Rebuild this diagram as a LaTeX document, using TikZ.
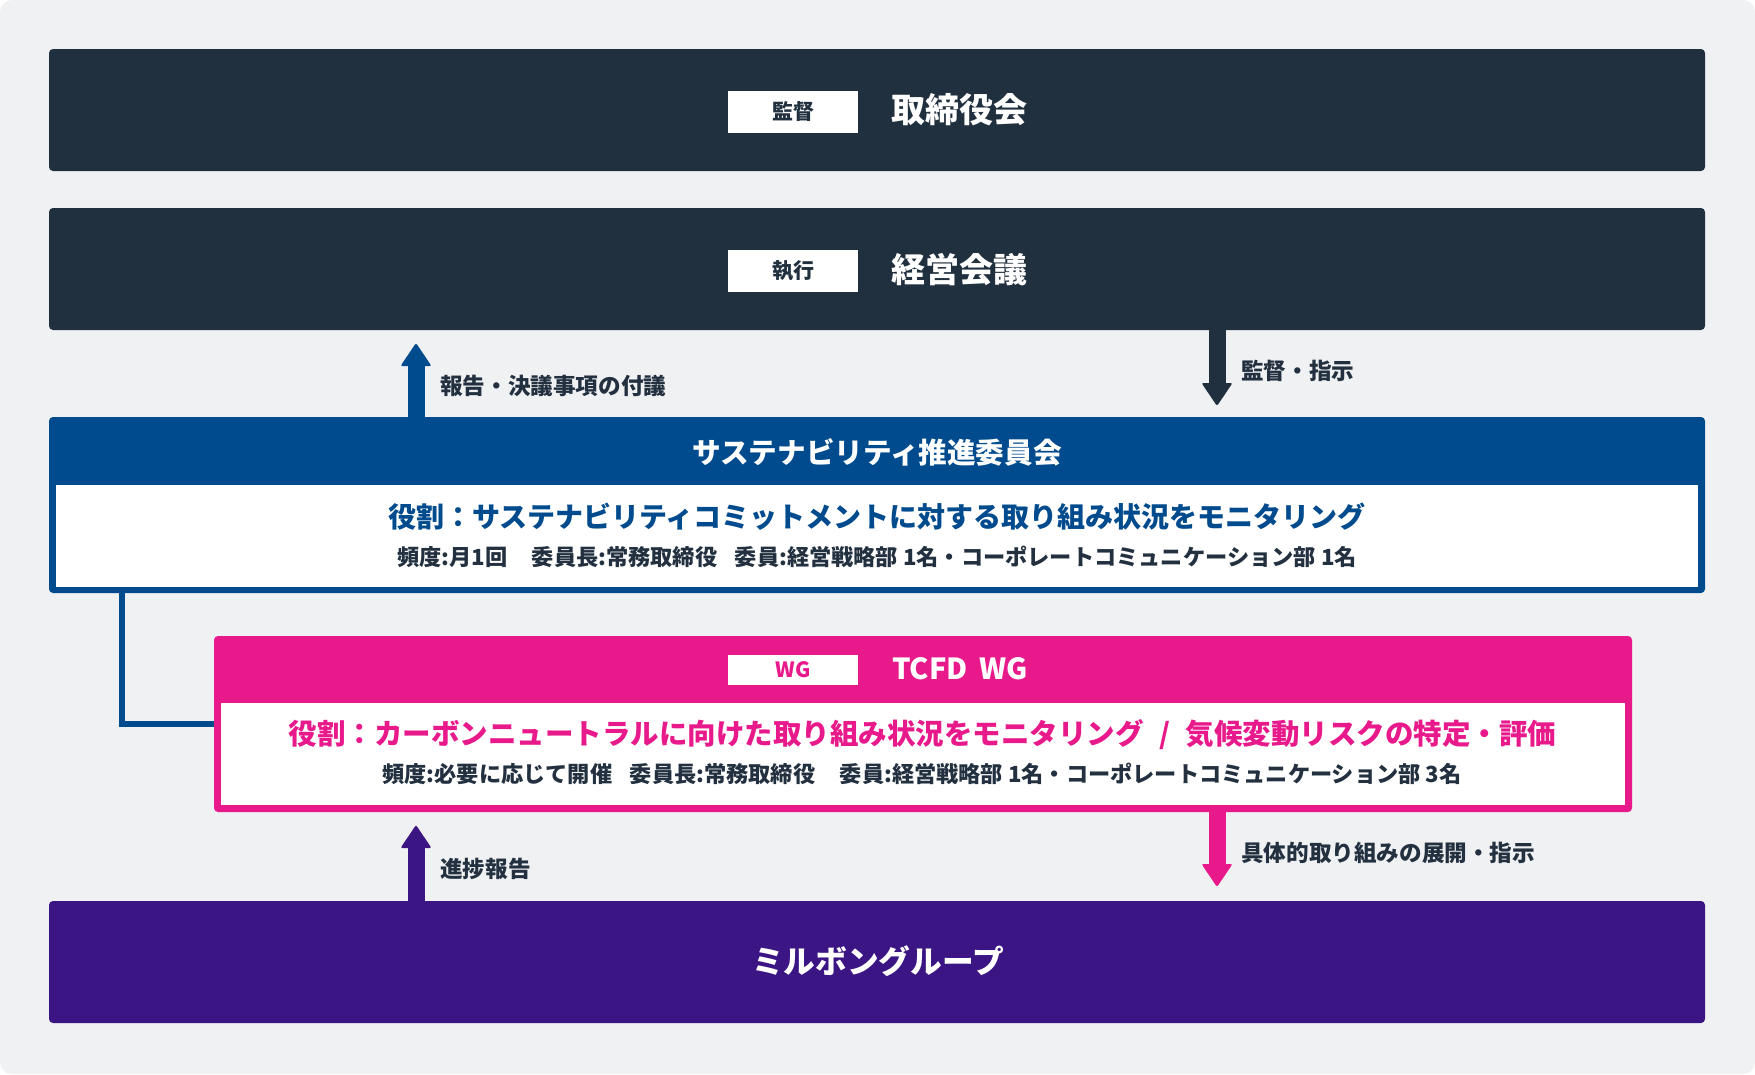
\documentclass[tikz,border=0pt]{standalone}
\usepackage{fontspec}
\setmainfont{Noto Sans CJK JP}
\usetikzlibrary{calc}
\definecolor{bgc}{HTML}{F0F1F3}
\definecolor{navy}{HTML}{21303F}
\definecolor{blu}{HTML}{004B8D}
\definecolor{pnk}{HTML}{E8198B}
\definecolor{prp}{HTML}{3C1585}
\definecolor{txt}{HTML}{22303F}
\newcommand\myfs[1]{\fontsize{#1}{#1}\selectfont\bfseries}
\tikzset{
  bigbox/.style={rounded corners=4pt, inner sep=0pt, draw=none},
  bodybox/.style={fill=white, inner sep=0pt, draw=none},
  tagbox/.style={fill=white, minimum width=130pt, inner sep=0pt},
  title/.style={inner sep=0pt, text=white, font=\myfs{34}},
  role/.style={inner sep=0pt, font=\myfs{28}},
  detail/.style={inner sep=0pt, text=txt, font=\myfs{22.2}},
  albl/.style={inner sep=0pt, text=txt, font=\myfs{22.6}, anchor=west},
  shaft/.style={line width=17pt},
  conn/.style={line width=6.5pt, blu},
}
\begin{document}
\begin{tikzpicture}[x=1pt,y=-1pt]
\useasboundingbox (0,0) rectangle (1755,1074);
\fill[white] (0,0) rectangle (1755,1074);
\fill[bgc, rounded corners=12pt] (0,0) rectangle (1755,1074);

% board
\node[bigbox, fill=navy, minimum width=1656pt, minimum height=122pt] (board) at (877,110) {};
\node[tagbox, minimum height=42pt, text=navy, font=\myfs{21}] (tag1) at (793,111.5) {監督};
\node[title, anchor=west] (t1) at (891,110) {取締役会};

% executive
\node[bigbox, fill=navy, minimum width=1656pt, minimum height=122pt] (exec) at (877,269) {};
\node[tagbox, minimum height=42pt, text=navy, font=\myfs{21}] (tag2) at (793,270.5) {執行};
\node[title, anchor=west] (t2) at (891,270) {経営会議};

% sustainability committee
\node[bigbox, fill=blu, minimum width=1656pt, minimum height=176pt] (sus) at (877,505) {};
\node[bodybox, minimum width=1642pt, minimum height=102pt] (susbody) at (877,536) {};
\node[title, font=\myfs{28.6}] (sushead) at (877,452) {サステナビリティ推進委員会};
\node[role, text=blu] (susrole) at (877,517) {役割：サステナビリティコミットメントに対する取り組み状況をモニタリング};
\node[detail] (susdet) at (877,557) {頻度:月1回\hspace{1.1em}委員長:常務取締役\hspace{0.8em}委員:経営戦略部 1名・コーポレートコミュニケーション部 1名};

% TCFD WG
\node[bigbox, fill=pnk, minimum width=1418pt, minimum height=176pt] (tcfd) at (923,724) {};
\node[bodybox, minimum width=1404pt, minimum height=102pt] (tcfdbody) at (923,754) {};
\node[tagbox, minimum height=30pt, text=pnk, font=\myfs{21}] (tag3) at (793,670) {WG};
\node[title, font=\myfs{29}, anchor=west] (tcfdhead) at (892,669) {TCFD\hspace{0.4em}WG};
\node[role, text=pnk, font=\myfs{28.5}] (tcfdrole) at (922.5,735) {役割：カーボンニュートラルに向けた取り組み状況をモニタリング\hspace{0.55em}/\hspace{0.55em}気候変動リスクの特定・評価};
\node[detail] (tcfddet) at (922,774) {頻度:必要に応じて開催\hspace{0.8em}委員長:常務取締役\hspace{1.1em}委員:経営戦略部 1名・コーポレートコミュニケーション部 3名};

% group
\node[bigbox, fill=prp, minimum width=1656pt, minimum height=122pt] (grp) at (877,962) {};
\node[title, font=\myfs{31.7}] (grptxt) at (878,961) {ミルボングループ};

% connector committee -> WG
\draw[conn] ([xshift=73pt]sus.south west) |- (tcfd.west);

% arrows
\coordinate (up1) at (416,343);
\coordinate (dn1) at (1217,406);
\coordinate (dn2) at (1217,887);
\coordinate (up2) at (416,825);

\draw[shaft, blu] (up1 |- sus.north) -- ($(up1)+(0,20)$);
\fill[blu, rounded corners=2pt] (up1) -- ++(15.5,23) -- ++(-31,0) -- cycle;
\draw[shaft, navy] (dn1 |- exec.south) -- ($(dn1)+(0,-20)$);
\fill[navy, rounded corners=2pt] (dn1) -- ++(15.5,-23) -- ++(-31,0) -- cycle;
\draw[shaft, pnk] (dn2 |- tcfd.south) -- ($(dn2)+(0,-20)$);
\fill[pnk, rounded corners=2pt] (dn2) -- ++(15.5,-23) -- ++(-31,0) -- cycle;
\draw[shaft, prp] (up2 |- grp.north) -- ($(up2)+(0,20)$);
\fill[prp, rounded corners=2pt] (up2) -- ++(15.5,23) -- ++(-31,0) -- cycle;

% arrow labels
\node[albl] (l1) at (440,386) {報告・決議事項の付議};
\node[albl] (l2) at (1241,371) {監督・指示};
\node[albl] (l3) at (1241,852.5) {具体的取り組みの展開・指示};
\node[albl] (l4) at (440,869) {進捗報告};
\end{tikzpicture}
\end{document}
